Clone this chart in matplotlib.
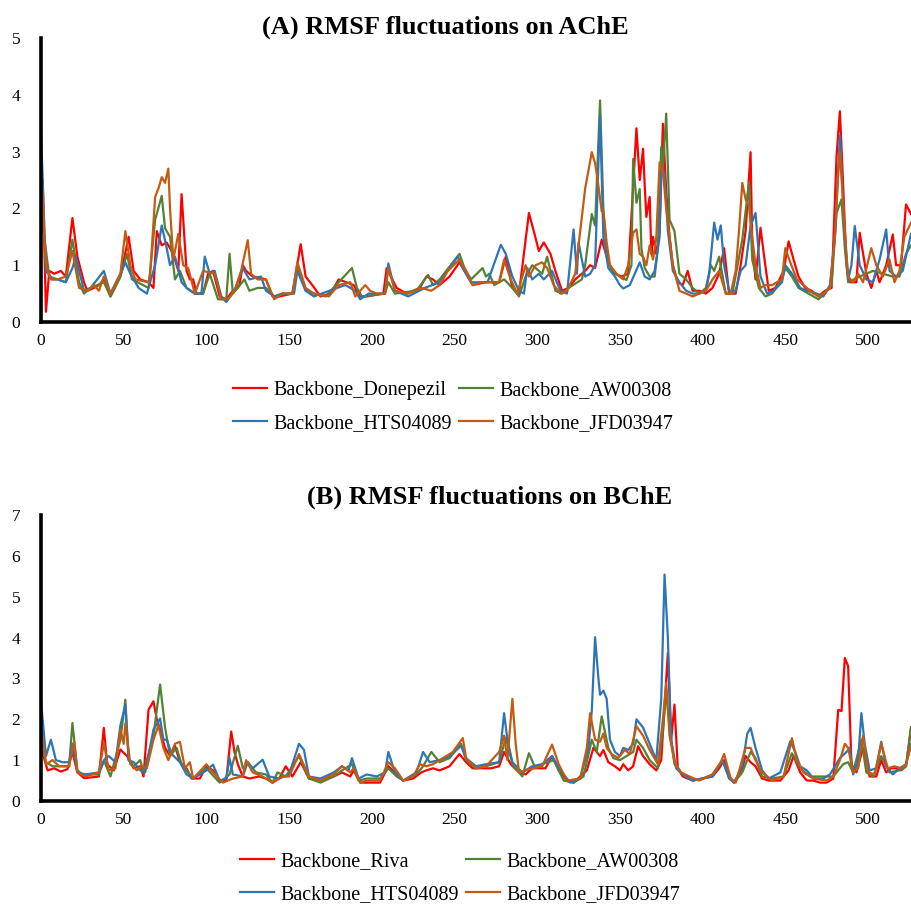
import matplotlib
matplotlib.use("Agg")
import matplotlib.pyplot as plt

plt.rcParams["font.family"] = ["Liberation Serif", "DejaVu Serif"]

# ---- RMSF per residue, AChE complexes ----
ache_don_res = [0, 1, 3, 5, 8, 12, 15, 19, 22, 26, 28, 32, 35, 38, 42, 48, 53, 56, 60, 65, 68, 70, 73, 76, 80,
                83, 85, 88, 90, 92, 94, 98, 101, 104, 108, 112, 116, 120, 122, 124, 128, 136, 140, 144, 152, 157,
                160, 164, 169, 175, 180, 189, 193, 197, 207, 209, 215, 221, 229, 233, 237, 241, 247, 253, 257,
                261, 269, 277, 281, 285, 289, 295, 299, 301, 304, 308, 311, 315, 319, 323, 329, 332, 335, 339,
                343, 347, 351, 355, 360, 362, 364, 365, 366, 368, 369, 370, 372, 374, 376, 378, 380, 382, 385,
                388, 391, 394, 398, 402, 406, 410, 413, 416, 420, 423, 426, 429, 430, 432, 435, 437, 440, 444,
                449, 452, 455, 458, 462, 466, 470, 474, 478, 481, 483, 485, 487, 489, 493, 495, 499, 502, 505,
                507, 511, 515, 517, 520, 523, 526]
ache_don = [2.45, 2.5, 0.18, 0.9, 0.85, 0.9, 0.8, 1.83, 1.15, 0.7, 0.55, 0.6, 0.65, 0.75, 0.45, 0.8, 1.5, 0.9,
            0.75, 0.7, 0.6, 1.6, 1.35, 1.4, 1.2, 0.9, 2.25, 0.9, 0.75, 0.75, 0.5, 0.5, 0.85, 0.9, 0.45, 0.4,
            0.55, 0.65, 1.0, 0.9, 0.8, 0.75, 0.45, 0.45, 0.5, 1.37, 0.8, 0.65, 0.45, 0.5, 0.75, 0.65, 0.45,
            0.45, 0.5, 0.95, 0.6, 0.5, 0.6, 0.8, 0.75, 0.65, 0.8, 1.05, 0.85, 0.65, 0.7, 0.7, 1.15, 0.6, 0.5,
            1.92, 1.48, 1.25, 1.4, 1.2, 0.9, 0.55, 0.6, 0.75, 0.9, 1.0, 0.95, 1.45, 1.05, 0.85, 0.8, 0.85,
            3.41, 2.5, 3.05, 2.4, 1.85, 2.2, 1.2, 1.5, 1.2, 1.6, 3.49, 2.3, 1.5, 1.0, 0.7, 0.65, 0.9, 0.55,
            0.55, 0.5, 0.6, 0.85, 1.3, 0.5, 0.5, 1.0, 1.6, 2.99, 1.4, 0.75, 1.66, 1.2, 0.55, 0.6, 0.9, 1.42,
            1.1, 0.8, 0.6, 0.55, 0.45, 0.55, 0.6, 2.93, 3.71, 2.4, 1.0, 0.7, 0.7, 1.57, 0.85, 0.6, 0.9, 0.7,
            1.0, 1.54, 1.0, 1.0, 2.07, 1.9]

ache_aw_res = [0, 5, 10, 15, 19, 23, 26, 30, 38, 42, 48, 52, 55, 65, 69, 73, 75, 78, 81, 84, 88, 93, 98, 102,
               107, 112, 114, 116, 119, 123, 126, 131, 136, 141, 146, 152, 155, 160, 165, 172, 180, 188, 191,
               194, 208, 210, 214, 227, 234, 237, 241, 249, 253, 256, 260, 267, 269, 271, 274, 280, 285, 289,
               293, 297, 303, 306, 311, 315, 319, 327, 329, 333, 335, 338, 340, 342, 345, 350, 354, 357, 358,
               360, 362, 363, 365, 368, 371, 373, 375, 376, 378, 380, 383, 386, 390, 394, 398, 402, 405, 407,
               410, 414, 418, 424, 428, 430, 434, 438, 442, 448, 450, 454, 458, 464, 470, 474, 478, 481, 484,
               486, 488, 495, 503, 509, 515, 519, 523, 526]
ache_aw = [1.95, 0.8, 0.75, 0.7, 1.45, 0.7, 0.5, 0.6, 0.7, 0.45, 0.8, 1.2, 0.75, 0.6, 1.8, 2.22, 1.65, 1.5,
           0.75, 0.9, 0.6, 0.5, 0.5, 0.85, 0.4, 0.4, 1.2, 0.5, 0.6, 0.75, 0.55, 0.6, 0.6, 0.45, 0.5, 0.5, 0.95,
           0.55, 0.5, 0.45, 0.7, 0.95, 0.6, 0.45, 0.5, 0.7, 0.5, 0.55, 0.83, 0.65, 0.75, 1.05, 1.2, 0.95, 0.75,
           0.95, 0.8, 0.85, 0.65, 0.75, 0.6, 0.45, 0.8, 1.0, 0.85, 1.15, 0.55, 0.5, 0.6, 0.75, 1.0, 1.9, 1.7,
           3.9, 2.0, 1.2, 0.9, 0.8, 0.74, 1.0, 2.87, 2.1, 2.34, 1.3, 0.95, 0.8, 0.8, 1.3, 3.08, 2.7, 3.67, 1.8,
           1.6, 0.85, 0.75, 0.6, 0.5, 0.6, 1.0, 0.9, 1.15, 0.5, 0.5, 1.45, 2.45, 1.1, 0.6, 0.45, 0.5, 0.75,
           0.95, 0.8, 0.6, 0.5, 0.4, 0.5, 0.65, 1.92, 2.16, 1.3, 0.7, 0.8, 0.9, 0.85, 0.8, 0.8, 1.2, 1.35]

ache_hts_res = [0, 3, 7, 10, 15, 19, 21, 26, 30, 38, 42, 48, 51, 54, 59, 64, 69, 73, 76, 78, 81, 85, 88, 93, 97,
                99, 102, 105, 109, 112, 117, 122, 126, 133, 136, 141, 146, 153, 155, 160, 165, 179, 184, 190,
                193, 198, 208, 210, 214, 222, 232, 241, 252, 256, 260, 265, 270, 278, 281, 285, 289, 292, 294,
                297, 301, 304, 309, 314, 318, 322, 324, 325, 329, 332, 335, 338, 340, 343, 347, 350, 352, 356,
                359, 362, 365, 368, 371, 374, 375, 377, 379, 382, 386, 390, 394, 398, 402, 404, 407, 409, 411,
                413, 416, 420, 423, 426, 429, 432, 435, 439, 443, 448, 450, 454, 459, 463, 469, 473, 477, 480,
                483, 486, 488, 490, 492, 495, 499, 503, 507, 511, 513, 517, 521, 526]
ache_hts = [3.35, 0.9, 0.75, 0.75, 0.7, 0.95, 1.15, 0.55, 0.6, 0.9, 0.5, 0.85, 1.05, 0.85, 0.6, 0.5, 1.0, 1.7,
            1.3, 1.0, 1.15, 0.7, 0.6, 0.5, 0.5, 1.15, 0.85, 0.9, 0.45, 0.35, 0.55, 0.95, 0.75, 0.8, 0.55, 0.45,
            0.5, 0.5, 0.9, 0.55, 0.45, 0.6, 0.65, 0.55, 0.4, 0.5, 0.5, 1.03, 0.55, 0.45, 0.6, 0.7, 1.15, 0.9,
            0.7, 0.7, 0.7, 1.36, 1.2, 0.8, 0.55, 0.5, 0.95, 0.75, 0.85, 0.75, 0.9, 0.55, 0.5, 1.63, 0.85, 1.4,
            0.8, 0.85, 1.0, 3.64, 1.5, 0.95, 0.8, 0.65, 0.59, 0.65, 0.85, 1.05, 0.8, 0.75, 0.9, 1.5, 2.75, 2.6,
            1.6, 0.9, 0.7, 0.55, 0.5, 0.5, 0.55, 0.85, 1.75, 1.45, 1.7, 1.0, 0.55, 0.55, 0.9, 1.0, 1.69, 1.92,
            0.8, 0.5, 0.55, 0.7, 1.0, 0.85, 0.6, 0.55, 0.5, 0.45, 0.65, 1.5, 3.28, 1.5, 0.75, 1.0, 1.69, 1.0,
            0.75, 0.7, 1.1, 1.63, 0.9, 0.8, 0.9, 1.55]

ache_jfd_res = [0, 3, 6, 10, 15, 19, 23, 28, 32, 35, 38, 42, 48, 51, 54, 57, 65, 66, 69, 71, 73, 75, 77, 78, 80,
                83, 86, 89, 93, 98, 105, 109, 113, 117, 121, 125, 127, 131, 136, 141, 146, 152, 155, 160, 165,
                174, 180, 187, 190, 196, 199, 203, 208, 210, 214, 222, 230, 236, 241, 246, 253, 257, 261, 266,
                272, 277, 280, 284, 288, 293, 295, 299, 303, 306, 310, 314, 318, 323, 329, 333, 335, 337, 339,
                340, 342, 344, 348, 352, 355, 358, 360, 362, 364, 366, 368, 370, 372, 374, 376, 378, 380, 382,
                386, 390, 394, 398, 402, 406, 410, 414, 417, 420, 422, 424, 426, 428, 430, 432, 435, 438, 442,
                448, 450, 453, 457, 461, 467, 471, 477, 480, 482, 483, 486, 488, 491, 494, 497, 502, 505, 509,
                513, 516, 519, 522, 526]
ache_jfd = [2.7, 1.0, 0.75, 0.75, 0.8, 1.25, 0.6, 0.55, 0.65, 0.55, 0.8, 0.5, 0.85, 1.6, 1.0, 0.75, 0.7, 0.85,
            2.2, 2.35, 2.55, 2.45, 2.7, 2.0, 1.1, 1.55, 1.0, 0.95, 0.5, 0.9, 0.85, 0.4, 0.4, 0.55, 0.9, 1.44,
            0.85, 0.75, 0.75, 0.4, 0.5, 0.5, 1.05, 0.6, 0.5, 0.45, 0.65, 0.7, 0.45, 0.65, 0.55, 0.5, 0.5, 0.95,
            0.55, 0.5, 0.6, 0.55, 0.65, 0.9, 1.1, 0.9, 0.65, 0.7, 0.7, 0.7, 1.1, 0.75, 0.5, 1.0, 0.8, 1.0, 1.05,
            0.95, 0.65, 0.5, 0.55, 0.85, 2.35, 2.99, 2.8, 2.4, 1.95, 1.95, 1.4, 1.0, 0.85, 0.75, 1.0, 1.57, 1.63,
            1.2, 1.15, 1.0, 1.35, 1.1, 1.48, 2.81, 2.65, 2.0, 1.5, 1.0, 0.55, 0.5, 0.45, 0.5, 0.55, 0.75, 0.9,
            0.5, 0.5, 0.9, 1.6, 2.45, 2.16, 2.04, 1.5, 1.0, 0.6, 0.65, 0.65, 0.75, 1.3, 1.05, 0.75, 0.65, 0.5,
            0.45, 0.6, 1.5, 2.63, 3.0, 1.6, 0.8, 0.7, 0.85, 0.7, 1.3, 1.0, 0.8, 1.1, 0.7, 0.9, 1.5, 1.75]

# ---- RMSF per residue, BChE complexes ----
bche_riva_res = [0, 4, 8, 12, 16, 19, 22, 26, 31, 35, 38, 40, 44, 48, 52, 56, 60, 62, 65, 68, 70, 72, 75, 78,
                 81, 84, 88, 91, 96, 100, 104, 108, 112, 115, 117, 119, 122, 126, 132, 136, 140, 144, 148, 152,
                 157, 162, 169, 177, 182, 187, 189, 193, 197, 205, 210, 214, 219, 225, 230, 233, 237, 241, 247,
                 253, 257, 261, 267, 272, 277, 280, 284, 289, 293, 297, 305, 309, 313, 318, 322, 326, 330, 334,
                 338, 340, 343, 347, 350, 352, 355, 358, 361, 364, 368, 372, 375, 377, 379, 381, 383, 385, 388,
                 394, 400, 406, 410, 413, 416, 419, 424, 426, 429, 432, 436, 440, 447, 452, 455, 459, 463, 467,
                 471, 475, 479, 482, 484, 486, 488, 490, 493, 497, 501, 505, 508, 511, 514, 517, 520, 523, 526]
bche_riva = [1.3, 0.75, 0.8, 0.72, 0.78, 1.2, 0.7, 0.56, 0.58, 0.6, 1.79, 0.9, 0.75, 1.26, 1.1, 0.8, 0.85,
             0.6, 2.23, 2.44, 2.0, 1.75, 1.3, 1.1, 1.35, 0.95, 0.8, 0.55, 0.55, 0.85, 0.75, 0.5, 0.5, 1.7, 1.2,
             0.9, 0.6, 0.55, 0.6, 0.55, 0.45, 0.55, 0.85, 0.6, 0.95, 0.55, 0.5, 0.6, 0.7, 0.6, 0.75, 0.45, 0.45,
             0.45, 0.85, 0.7, 0.5, 0.55, 0.7, 0.75, 0.8, 0.75, 0.85, 1.15, 0.95, 0.8, 0.8, 0.8, 0.85, 1.2, 0.9,
             0.7, 0.65, 0.8, 0.8, 1.1, 0.75, 0.5, 0.45, 0.6, 0.75, 1.3, 1.1, 1.25, 0.95, 0.85, 0.75, 0.9, 0.75,
             0.85, 1.34, 1.1, 0.9, 0.75, 1.0, 2.3, 3.62, 1.5, 2.36, 0.8, 0.6, 0.5, 0.55, 0.6, 0.8, 1.0, 0.6,
             0.45, 0.8, 1.1, 0.95, 0.85, 0.55, 0.5, 0.5, 0.75, 1.1, 0.7, 0.5, 0.5, 0.45, 0.45, 0.55, 2.23, 2.2,
             3.5, 3.3, 0.9, 0.7, 1.3, 0.6, 0.6, 1.0, 0.7, 0.8, 0.8, 0.75, 0.85, 1.8]

bche_aw_res = [0, 3, 7, 17, 19, 22, 25, 35, 38, 42, 48, 51, 53, 56, 60, 62, 68, 72, 75, 78, 82, 85, 88, 92, 100,
               108, 114, 119, 122, 125, 130, 136, 140, 143, 148, 156, 162, 169, 177, 182, 188, 192, 197, 205,
               210, 215, 219, 227, 231, 236, 241, 247, 254, 257, 263, 269, 277, 281, 285, 291, 295, 299, 303,
               310, 316, 322, 328, 333, 336, 339, 343, 346, 350, 354, 358, 360, 364, 368, 373, 376, 378, 380,
               383, 387, 394, 400, 406, 412, 416, 419, 424, 429, 432, 436, 442, 449, 454, 459, 465, 473, 479,
               485, 488, 491, 496, 499, 503, 508, 513, 519, 523, 526]
bche_aw = [1.6, 0.95, 0.85, 0.85, 1.91, 0.75, 0.65, 0.65, 1.0, 0.6, 1.5, 2.48, 1.0, 0.85, 1.0, 0.7, 1.6, 2.85,
           1.8, 1.1, 1.3, 0.9, 0.75, 0.55, 0.8, 0.45, 0.65, 1.35, 0.8, 0.95, 0.7, 0.65, 0.45, 0.7, 0.6, 1.1,
           0.55, 0.45, 0.6, 0.75, 0.9, 0.5, 0.55, 0.55, 0.8, 0.6, 0.5, 0.65, 0.85, 1.2, 0.95, 1.05, 1.4, 1.0,
           0.8, 0.85, 0.95, 1.55, 0.9, 0.6, 1.17, 0.8, 0.9, 1.0, 0.5, 0.45, 0.6, 1.5, 1.2, 2.07, 1.3, 1.05, 1.0,
           1.1, 1.2, 1.5, 1.3, 1.0, 0.8, 1.7, 2.72, 1.8, 0.9, 0.7, 0.5, 0.55, 0.65, 1.0, 0.6, 0.45, 0.7, 1.2,
           1.05, 0.6, 0.55, 0.6, 1.17, 0.8, 0.6, 0.6, 0.6, 0.9, 0.95, 0.7, 1.5, 0.7, 0.6, 1.1, 0.7, 0.75, 0.85,
           1.8]

bche_hts_res = [0, 3, 6, 9, 13, 17, 19, 22, 27, 35, 39, 41, 45, 48, 51, 53, 56, 60, 63, 68, 72, 74, 76, 79, 84,
                88, 92, 100, 104, 108, 112, 114, 116, 122, 125, 128, 134, 138, 144, 150, 156, 159, 162, 169, 177,
                182, 186, 188, 192, 197, 203, 208, 210, 214, 219, 227, 231, 235, 241, 247, 254, 257, 263, 269,
                277, 280, 282, 285, 291, 297, 303, 309, 314, 320, 326, 331, 333, 335, 337, 338, 340, 342, 344,
                347, 350, 352, 355, 358, 360, 364, 368, 372, 375, 377, 379, 381, 384, 388, 394, 400, 406, 412,
                416, 419, 424, 427, 429, 432, 436, 440, 447, 453, 456, 459, 463, 467, 473, 477, 483, 487, 489,
                491, 494, 496, 498, 501, 505, 508, 511, 515, 519, 523, 526]
bche_hts = [2.45, 1.1, 1.5, 1.0, 0.95, 0.95, 1.4, 0.7, 0.65, 0.7, 1.05, 1.1, 0.95, 1.85, 2.34, 1.0, 0.95, 0.75,
            0.7, 1.75, 2.02, 1.5, 1.5, 1.15, 0.95, 0.65, 0.55, 0.75, 0.89, 0.5, 0.55, 1.05, 0.65, 0.6, 0.95, 0.8,
            1.01, 0.6, 0.55, 0.65, 1.4, 1.25, 0.6, 0.55, 0.7, 0.85, 0.75, 1.05, 0.55, 0.65, 0.6, 0.7, 1.2, 0.7,
            0.5, 0.7, 1.2, 0.95, 1.0, 1.1, 1.35, 1.05, 0.85, 0.9, 0.95, 2.15, 1.5, 0.95, 0.7, 0.85, 0.9, 1.1,
            0.75, 0.45, 0.55, 1.3, 2.2, 4.01, 3.0, 2.6, 2.7, 2.5, 1.5, 1.2, 1.1, 1.3, 1.25, 1.4, 2.0, 1.8, 1.4,
            1.0, 2.5, 5.54, 4.0, 1.5, 0.8, 0.65, 0.5, 0.55, 0.6, 1.0, 0.55, 0.45, 0.85, 1.65, 1.79, 1.3, 0.75,
            0.55, 0.7, 1.46, 1.2, 0.85, 0.75, 0.55, 0.55, 0.65, 1.05, 1.2, 1.3, 0.65, 1.0, 2.15, 1.4, 0.75, 0.8,
            1.45, 0.85, 0.65, 0.8, 0.9, 1.4]

bche_jfd_res = [0, 3, 7, 11, 17, 20, 22, 27, 35, 38, 41, 45, 48, 50, 51, 54, 58, 61, 64, 68, 71, 74, 77, 81, 84,
                87, 90, 92, 100, 104, 110, 116, 122, 124, 128, 134, 140, 146, 150, 156, 162, 169, 177, 182, 187,
                189, 193, 197, 205, 210, 214, 219, 225, 229, 233, 237, 243, 249, 255, 257, 263, 269, 277, 280,
                282, 285, 287, 289, 297, 303, 309, 313, 318, 326, 330, 332, 335, 338, 340, 342, 345, 349, 353,
                356, 360, 364, 368, 373, 376, 378, 380, 383, 387, 392, 398, 406, 411, 413, 417, 420, 426, 429,
                432, 436, 442, 449, 454, 457, 461, 467, 475, 479, 483, 486, 488, 491, 494, 497, 500, 504, 508,
                512, 516, 520, 523, 526]
bche_jfd = [1.85, 0.9, 1.0, 0.85, 0.85, 1.45, 0.7, 0.6, 0.7, 1.42, 0.75, 0.8, 1.75, 1.4, 1.9, 0.9, 0.75, 0.85,
            0.8, 1.5, 1.85, 1.3, 1.0, 1.4, 1.45, 0.8, 0.95, 0.55, 0.9, 0.7, 0.45, 0.55, 0.6, 1.0, 0.7, 0.6, 0.45,
            0.6, 0.6, 1.15, 0.6, 0.5, 0.65, 0.85, 0.7, 0.8, 0.45, 0.5, 0.5, 0.95, 0.8, 0.5, 0.6, 0.9, 0.85, 0.9,
            1.05, 1.2, 1.54, 1.05, 0.8, 0.85, 1.2, 1.6, 1.0, 2.5, 1.4, 0.7, 0.8, 0.85, 1.38, 0.9, 0.5, 0.55, 1.3,
            2.15, 1.5, 1.45, 1.65, 1.3, 1.15, 1.05, 1.25, 1.15, 1.83, 1.6, 1.25, 0.9, 2.0, 2.89, 1.6, 0.95, 0.7,
            0.6, 0.5, 0.65, 0.95, 1.15, 0.55, 0.45, 1.3, 1.3, 1.0, 0.7, 0.5, 0.6, 1.54, 1.0, 0.7, 0.55, 0.5, 0.6,
            1.0, 1.4, 1.3, 0.7, 0.8, 1.6, 0.7, 0.65, 1.4, 0.8, 0.85, 0.8, 0.9, 1.35]

colors = {"red": "#FF0000", "green": "#548235", "blue": "#2E75B6", "orange": "#C55A11"}

panels = [
    {
        "title": "(A) RMSF fluctuations on AChE",
        "rect": [41 / 911, 1 - 322 / 908, 870 / 911, 284 / 908],
        "ymax": 5,
        "title_xy": (445 / 911, 1 - 27 / 908),
        "legend_xy": (453 / 911, 1 - 407 / 908),
        "series": [
            (ache_don_res, ache_don, "Backbone_Donepezil", colors["red"]),
            (ache_aw_res, ache_aw, "Backbone_AW00308", colors["green"]),
            (ache_hts_res, ache_hts, "Backbone_HTS04089", colors["blue"]),
            (ache_jfd_res, ache_jfd, "Backbone_JFD03947", colors["orange"]),
        ],
    },
    {
        "title": "(B) RMSF fluctuations on BChE",
        "rect": [41 / 911, 1 - 801 / 908, 870 / 911, 286 / 908],
        "ymax": 7,
        "title_xy": (490 / 911, 1 - 497 / 908),
        "legend_xy": (460 / 911, 1 - 878 / 908),
        "series": [
            (bche_riva_res, bche_riva, "Backbone_Riva", colors["red"]),
            (bche_aw_res, bche_aw, "Backbone_AW00308", colors["green"]),
            (bche_hts_res, bche_hts, "Backbone_HTS04089", colors["blue"]),
            (bche_jfd_res, bche_jfd, "Backbone_JFD03947", colors["orange"]),
        ],
    },
]

fig = plt.figure(figsize=(9.11, 9.08), dpi=100)

for p in panels:
    ax = fig.add_axes(p["rect"])
    handles = []
    for res, vals, label, col in p["series"]:
        (h,) = ax.plot(res, vals, color=col, lw=1.6, label=label, solid_joinstyle="round")
        handles.append(h)

    ax.set_xlim(0, 526)
    ax.set_ylim(0, p["ymax"])
    ax.set_xticks(range(0, 501, 50))
    ax.set_yticks(range(0, p["ymax"] + 1))
    for side in ("top", "right"):
        ax.spines[side].set_visible(False)
    for side in ("left", "bottom"):
        ax.spines[side].set_linewidth(2.6)
        ax.spines[side].set_color("black")
    ax.tick_params(axis="x", length=0, pad=8, labelsize=12.5)
    ax.tick_params(axis="y", length=0, pad=15, labelsize=12.5)
    ax.patch.set_alpha(0)

    fig.text(p["title_xy"][0], p["title_xy"][1], p["title"], ha="center", va="center",
             fontsize=19, fontweight="bold")

    # row-major order: red, green / blue, orange
    order = [handles[0], handles[2], handles[1], handles[3]]
    fig.legend(order, [h.get_label() for h in order], loc="center",
               bbox_to_anchor=p["legend_xy"], ncol=2, frameon=False, fontsize=14.5,
               handlelength=1.7, handletextpad=0.3, columnspacing=0.35, labelspacing=0.65)

fig.savefig("out.png", dpi=100)
